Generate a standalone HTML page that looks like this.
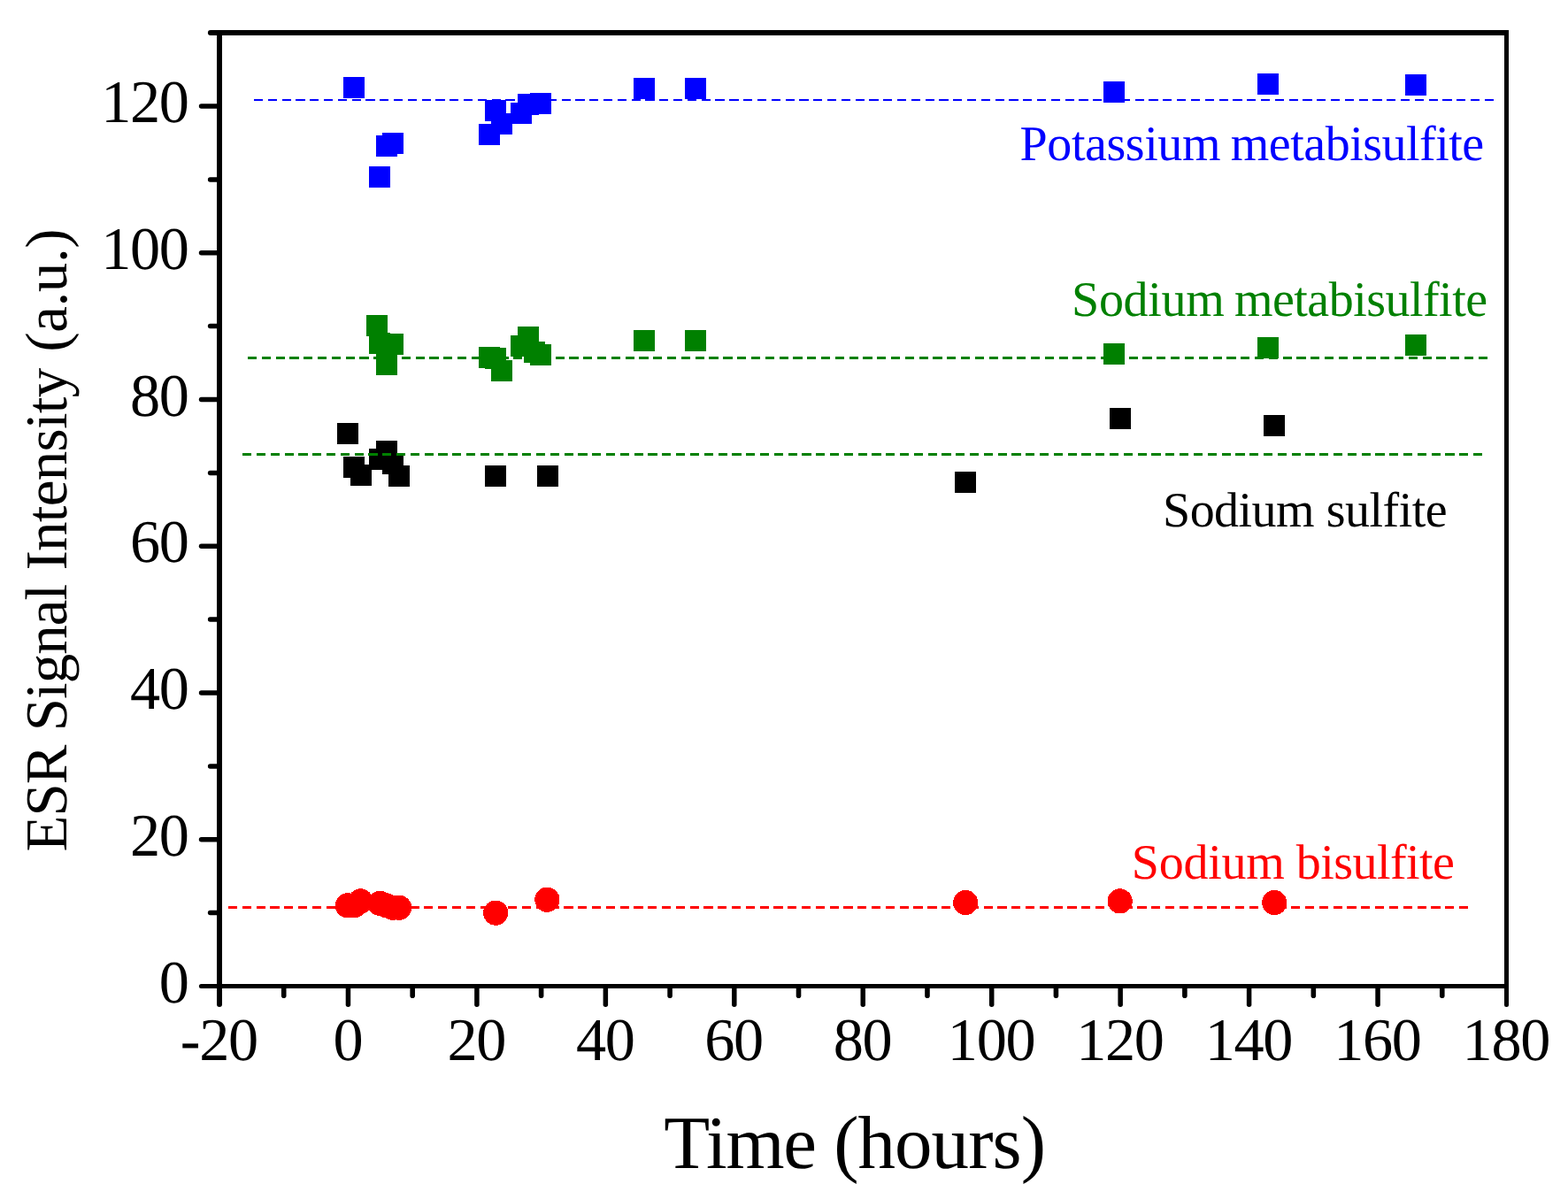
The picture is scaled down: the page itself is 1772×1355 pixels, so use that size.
<!DOCTYPE html>
<html lang="en"><head><meta charset="utf-8"><title>ESR Signal Intensity vs Time</title>
<style>
html,body{margin:0;padding:0;background:#fff;}
body{width:1772px;height:1355px;overflow:hidden;}
svg{display:block;}
text{font-family:"Liberation Serif","DejaVu Serif",serif;white-space:pre;text-rendering:geometricPrecision;}
.tk{font-size:68.3px;letter-spacing:-1.35px;fill:#000;}
</style></head><body>
<svg width="1772" height="1355" viewBox="0 0 1772 1355" role="img" aria-label="ESR signal intensity versus time for four sulfite salts">
<rect x="0" y="0" width="1772" height="1355" fill="#ffffff"/>
<g fill="#000000" shape-rendering="crispEdges">
<rect x="381" y="478" width="24" height="24"/>
<rect x="388" y="516" width="24" height="24"/>
<rect x="396" y="525" width="24" height="24"/>
<rect x="417" y="507" width="24" height="24"/>
<rect x="425" y="498" width="24" height="24"/>
<rect x="432" y="512" width="24" height="24"/>
<rect x="439" y="526" width="24" height="24"/>
<rect x="548" y="526" width="24" height="24"/>
<rect x="607" y="526" width="24" height="24"/>
<rect x="1079" y="533" width="24" height="24"/>
<rect x="1254" y="461" width="24" height="24"/>
<rect x="1428" y="469" width="24" height="24"/>
</g>
<g>
<line x1="286.9" y1="113" x2="1688.03" y2="113" stroke="#0000ff" stroke-width="2" stroke-dasharray="10.2 5.606" shape-rendering="crispEdges"/>
<line x1="279.9" y1="404.5" x2="1681.03" y2="404.5" stroke="#008000" stroke-width="3" stroke-dasharray="10.2 5.606" shape-rendering="crispEdges"/>
<line x1="274.1" y1="513.5" x2="1675.23" y2="513.5" stroke="#008000" stroke-width="3" stroke-dasharray="10.2 5.606" shape-rendering="crispEdges"/>
<line x1="258" y1="1025.5" x2="1659.13" y2="1025.5" stroke="#ff0000" stroke-width="3" stroke-dasharray="10.2 5.606" shape-rendering="crispEdges"/>
</g>
<g fill="#ff0000" shape-rendering="crispEdges">
<circle cx="392.95" cy="1023.34" r="14.1"/>
<circle cx="400.22" cy="1023.34" r="14.1"/>
<circle cx="407.5" cy="1018.37" r="14.1"/>
<circle cx="429.31" cy="1020.85" r="14.1"/>
<circle cx="436.59" cy="1023.34" r="14.1"/>
<circle cx="443.86" cy="1025.82" r="14.1"/>
<circle cx="451.13" cy="1025.82" r="14.1"/>
<circle cx="560.22" cy="1031.62" r="14.1"/>
<circle cx="618.4" cy="1016.71" r="14.1"/>
<circle cx="1091.11" cy="1020.02" r="14.1"/>
<circle cx="1265.65" cy="1018.37" r="14.1"/>
<circle cx="1440.19" cy="1020.02" r="14.1"/>
</g>
<g fill="#008000" shape-rendering="crispEdges">
<rect x="414" y="356" width="24" height="24"/>
<rect x="417" y="376" width="24" height="24"/>
<rect x="432" y="377" width="24" height="24"/>
<rect x="425" y="400" width="24" height="24"/>
<rect x="541" y="392" width="24" height="24"/>
<rect x="548" y="393" width="24" height="24"/>
<rect x="555" y="407" width="24" height="24"/>
<rect x="577" y="379" width="24" height="24"/>
<rect x="585" y="369" width="24" height="24"/>
<rect x="592" y="386" width="24" height="24"/>
<rect x="599" y="389" width="24" height="24"/>
<rect x="716" y="373" width="24" height="24"/>
<rect x="774" y="373" width="24" height="24"/>
<rect x="1247" y="388" width="24" height="24"/>
<rect x="1421" y="381" width="24" height="24"/>
<rect x="1588" y="378" width="24" height="24"/>
</g>
<g fill="#0000ff" shape-rendering="crispEdges">
<rect x="388" y="87" width="24" height="24"/>
<rect x="417" y="188" width="24" height="24"/>
<rect x="425" y="153" width="24" height="24"/>
<rect x="432" y="150" width="24" height="24"/>
<rect x="541" y="140" width="24" height="24"/>
<rect x="548" y="113" width="24" height="24"/>
<rect x="555" y="128" width="24" height="24"/>
<rect x="577" y="116" width="24" height="24"/>
<rect x="585" y="106" width="24" height="24"/>
<rect x="599" y="105" width="24" height="24"/>
<rect x="716" y="88" width="24" height="24"/>
<rect x="774" y="88" width="24" height="24"/>
<rect x="1247" y="92" width="24" height="24"/>
<rect x="1421" y="83" width="24" height="24"/>
<rect x="1588" y="84" width="24" height="24"/>
</g>
<g fill="#000" shape-rendering="crispEdges">
<rect x="245" y="34" width="6" height="1083"/>
<rect x="245" y="1112" width="1460" height="5"/>
<rect x="245" y="34" width="1460" height="6"/>
<rect x="1700" y="34" width="5" height="1083"/>
</g>
<g stroke="#000" stroke-linecap="round">
<line x1="227.4" y1="1114.5" x2="247" y2="1114.5" stroke-width="5"/>
<line x1="237.6" y1="1031.62" x2="247" y2="1031.62" stroke-width="5.5"/>
<line x1="227.6" y1="948.75" x2="247" y2="948.75" stroke-width="5.6"/>
<line x1="237.6" y1="865.88" x2="247" y2="865.88" stroke-width="5.5"/>
<line x1="227.6" y1="783" x2="247" y2="783" stroke-width="5.6"/>
<line x1="237.6" y1="700.12" x2="247" y2="700.12" stroke-width="5.5"/>
<line x1="227.6" y1="617.25" x2="247" y2="617.25" stroke-width="5.6"/>
<line x1="237.6" y1="534.38" x2="247" y2="534.38" stroke-width="5.5"/>
<line x1="227.6" y1="451.5" x2="247" y2="451.5" stroke-width="5.6"/>
<line x1="237.6" y1="368.62" x2="247" y2="368.62" stroke-width="5.5"/>
<line x1="227.6" y1="285.75" x2="247" y2="285.75" stroke-width="5.6"/>
<line x1="237.6" y1="202.88" x2="247" y2="202.88" stroke-width="5.5"/>
<line x1="227.6" y1="120" x2="247" y2="120" stroke-width="5.6"/>
<line x1="237.9" y1="37" x2="247" y2="37" stroke-width="6"/>
<line x1="248" y1="1116" x2="248" y2="1134.9" stroke-width="6"/>
<line x1="320.73" y1="1115.5" x2="320.73" y2="1125.2" stroke-width="5.6"/>
<line x1="393.45" y1="1115.5" x2="393.45" y2="1135.2" stroke-width="5.5"/>
<line x1="466.18" y1="1115.5" x2="466.18" y2="1125.2" stroke-width="5.6"/>
<line x1="538.9" y1="1115.5" x2="538.9" y2="1135.2" stroke-width="5.5"/>
<line x1="611.62" y1="1115.5" x2="611.62" y2="1125.2" stroke-width="5.6"/>
<line x1="684.35" y1="1115.5" x2="684.35" y2="1135.2" stroke-width="5.5"/>
<line x1="757.08" y1="1115.5" x2="757.08" y2="1125.2" stroke-width="5.6"/>
<line x1="829.8" y1="1115.5" x2="829.8" y2="1135.2" stroke-width="5.5"/>
<line x1="902.52" y1="1115.5" x2="902.52" y2="1125.2" stroke-width="5.6"/>
<line x1="975.25" y1="1115.5" x2="975.25" y2="1135.2" stroke-width="5.5"/>
<line x1="1047.97" y1="1115.5" x2="1047.97" y2="1125.2" stroke-width="5.6"/>
<line x1="1120.7" y1="1115.5" x2="1120.7" y2="1135.2" stroke-width="5.5"/>
<line x1="1193.42" y1="1115.5" x2="1193.42" y2="1125.2" stroke-width="5.6"/>
<line x1="1266.15" y1="1115.5" x2="1266.15" y2="1135.2" stroke-width="5.5"/>
<line x1="1338.88" y1="1115.5" x2="1338.88" y2="1125.2" stroke-width="5.6"/>
<line x1="1411.6" y1="1115.5" x2="1411.6" y2="1135.2" stroke-width="5.5"/>
<line x1="1484.33" y1="1115.5" x2="1484.33" y2="1125.2" stroke-width="5.6"/>
<line x1="1557.05" y1="1115.5" x2="1557.05" y2="1135.2" stroke-width="5.5"/>
<line x1="1629.78" y1="1115.5" x2="1629.78" y2="1125.2" stroke-width="5.6"/>
<line x1="1702.5" y1="1116" x2="1702.5" y2="1135.4" stroke-width="5"/>
</g>
<g class="tk">
<text x="179.75" y="1132.5">0</text>
<text x="146.95" y="966.75">20</text>
<text x="146.95" y="801">40</text>
<text x="146.95" y="635.25">60</text>
<text x="146.95" y="469.5">80</text>
<text x="114.15" y="303.75">100</text>
<text x="114.15" y="138">120</text>
<text x="203.83" y="1197.8">-20</text>
<text x="376.38" y="1197.8">0</text>
<text x="505.42" y="1197.8">20</text>
<text x="650.88" y="1197.8">40</text>
<text x="796.32" y="1197.8">60</text>
<text x="941.77" y="1197.8">80</text>
<text x="1070.83" y="1197.8">100</text>
<text x="1216.28" y="1197.8">120</text>
<text x="1361.72" y="1197.8">140</text>
<text x="1507.17" y="1197.8">160</text>
<text x="1652.62" y="1197.8">180</text>
</g>
<text y="1319.9" font-size="85" fill="#000"><tspan x="750.36" style="letter-spacing:-1.24px">Time</tspan> <tspan x="942.16" style="letter-spacing:-0.95px">(hours)</tspan></text>
<text y="0" font-size="67" fill="#000" transform="translate(74.9 0) rotate(-90)"><tspan x="-962.53" style="letter-spacing:-0.92px">ESR</tspan> <tspan x="-826.18" style="letter-spacing:-0.98px">Signal</tspan> <tspan x="-644.62" style="letter-spacing:-0.7px">Intensity</tspan> <tspan x="-397.74" style="letter-spacing:-0.41px">(a.u.)</tspan></text>
<text y="181" font-size="56" fill="#0000ff"><tspan x="1152.59" style="letter-spacing:-0.42px">Potassium</tspan> <tspan x="1390.82" style="letter-spacing:-0.5px">metabisulfite</tspan></text>
<text y="357.1" font-size="56" fill="#008000"><tspan x="1211.05" style="letter-spacing:-0.29px">Sodium</tspan> <tspan x="1394.92" style="letter-spacing:-0.52px">metabisulfite</tspan></text>
<text y="594.9" font-size="56" fill="#000000"><tspan x="1314.05" style="letter-spacing:-0.55px">Sodium</tspan> <tspan x="1498.8" style="letter-spacing:-0.51px">sulfite</tspan></text>
<text y="992.7" font-size="56" fill="#ff0000"><tspan x="1278.75" style="letter-spacing:-0.25px">Sodium</tspan> <tspan x="1464.8" style="letter-spacing:-0.55px">bisulfite</tspan></text>
</svg>
</body></html>
